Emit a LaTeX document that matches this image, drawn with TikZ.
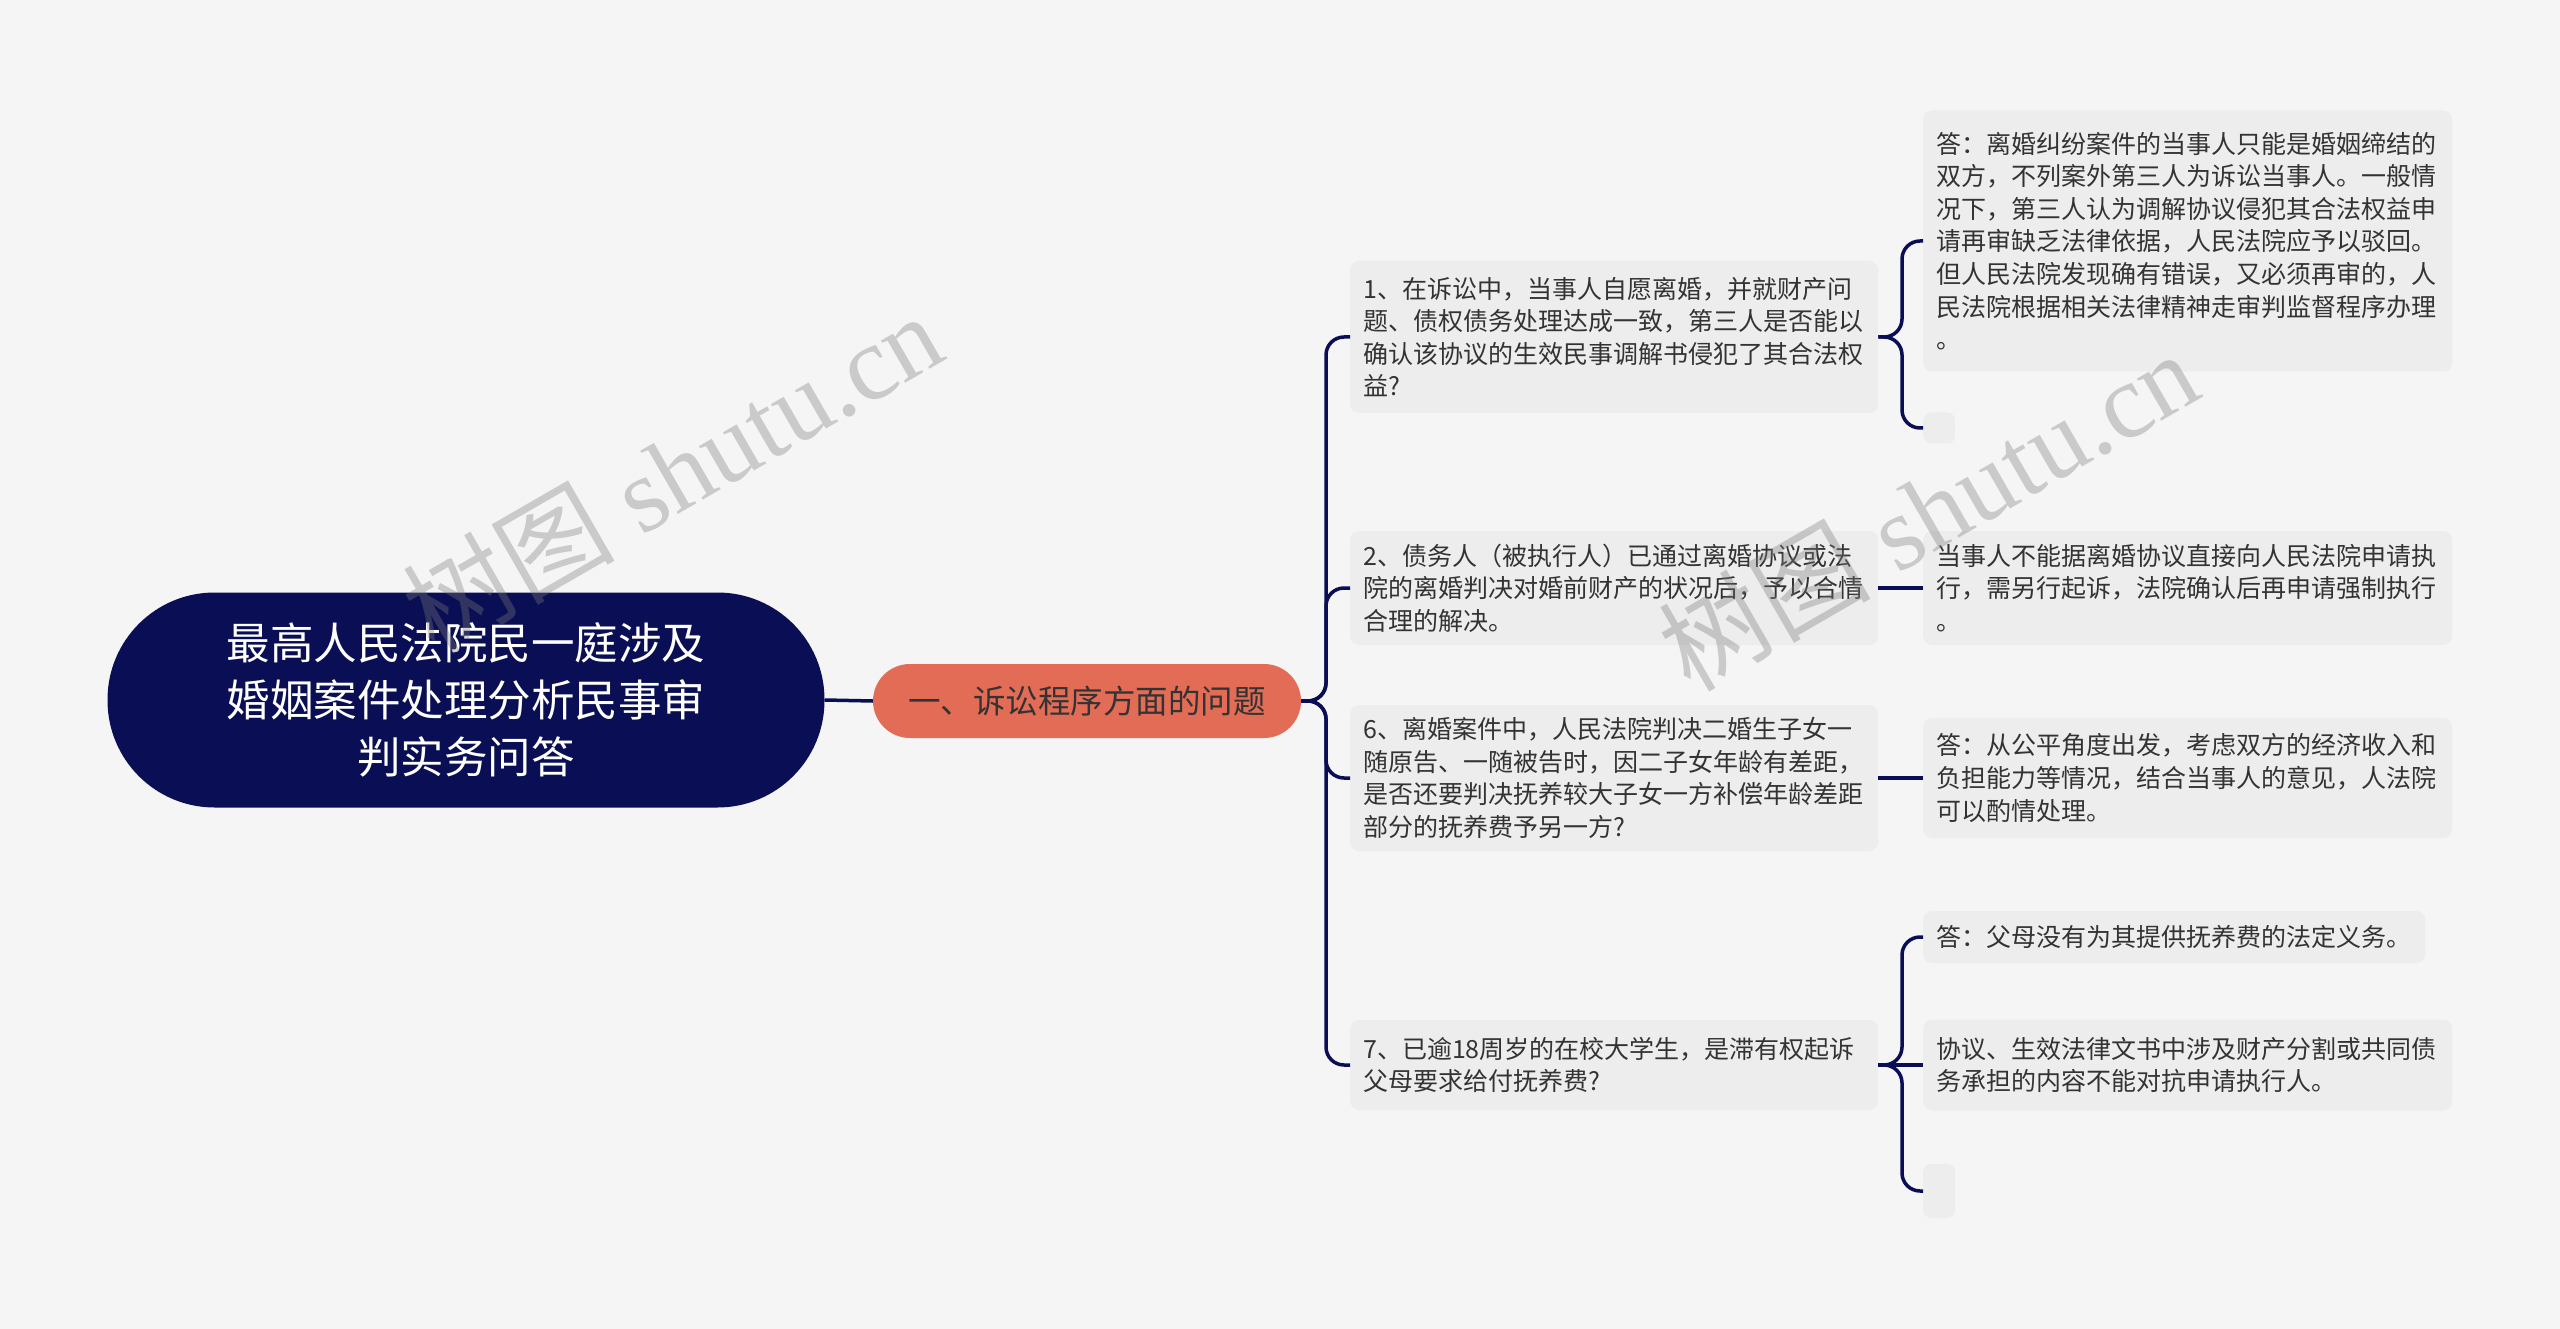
\documentclass[tikz,border=0pt]{standalone}
\usepackage{fontspec}
\newfontfamily\cjk{Noto Sans CJK SC}
\newfontfamily\wmserif{Liberation Serif}
\definecolor{bgc}{HTML}{F5F5F5}
\definecolor{boxc}{HTML}{EDEDED}
\definecolor{navy}{HTML}{0A0F55}
\definecolor{salmon}{HTML}{E36C56}
\definecolor{txt}{HTML}{333333}
\definecolor{wmc}{HTML}{7A7A7A}
\tikzset{
  rootbox/.style={fill=navy, rounded corners=107pt, minimum width=717pt, minimum height=215pt, text=white, align=center, font=\cjk\fontsize{43.5}{57}\selectfont, inner sep=0pt},
  branchbox/.style={fill=salmon, rounded corners=37pt, minimum width=428pt, minimum height=74pt, text=txt, align=center, font=\cjk\fontsize{32.5}{36}\selectfont, inner sep=0pt},
  qbox/.style={fill=boxc, rounded corners=9pt, text=txt, font=\cjk\fontsize{25}{32.6}\selectfont, align=left, anchor=west, inner xsep=13pt, inner ysep=0pt, text width=502pt},
  abox/.style={qbox, text width=503pt},
  emptybox/.style={fill=boxc, rounded corners=8pt, anchor=west, minimum width=32pt, inner sep=0pt},
  link/.style={draw=navy, line width=3.5pt, rounded corners=18pt},
  wm/.style={text=wmc, opacity=0.35, font=\wmserif\fontsize{106}{110}\selectfont, rotate=30, inner sep=0pt}
}
\begin{document}
\begin{tikzpicture}[x=1pt,y=-1pt]
\fill[bgc] (0,0) rectangle (2560,1329);
\useasboundingbox (0,0) rectangle (2560,1329);

% nodes
\node[rootbox] (root) at (466,700) {最高人民法院民一庭涉及\\婚姻案件处理分析民事审\\判实务问答};
\node[branchbox] (br) at (1087,701) {一、诉讼程序方面的问题};

\node[qbox, minimum height=152pt] (q1) at (1350,337) {1、在诉讼中，当事人自愿离婚，并就财产问\\题、债权债务处理达成一致，第三人是否能以\\确认该协议的生效民事调解书侵犯了其合法权\\益?};
\node[qbox, minimum height=114pt] (q2) at (1350,588) {2、债务人（被执行人）已通过离婚协议或法\\院的离婚判决对婚前财产的状况后，予以合情\\合理的解决。};
\node[qbox, minimum height=146pt] (q6) at (1350,778) {6、离婚案件中，人民法院判决二婚生子女一\\随原告、一随被告时，因二子女年龄有差距，\\是否还要判决抚养较大子女一方补偿年龄差距\\部分的抚养费予另一方?};
\node[qbox, minimum height=90pt] (q7) at (1350,1065) {7、已逾18周岁的在校大学生，是滞有权起诉\\父母要求给付抚养费?};

\node[abox, minimum height=261pt] (a1) at (1923,241) {答：离婚纠纷案件的当事人只能是婚姻缔结的\\双方，不列案外第三人为诉讼当事人。一般情\\况下，第三人认为调解协议侵犯其合法权益申\\请再审缺乏法律依据，人民法院应予以驳回。\\但人民法院发现确有错误，又必须再审的，人\\民法院根据相关法律精神走审判监督程序办理\\。};
\node[emptybox, minimum height=31pt] (a1e) at (1923,428) {};
\node[abox, minimum height=114pt] (a2) at (1923,588) {当事人不能据离婚协议直接向人民法院申请执\\行，需另行起诉，法院确认后再申请强制执行\\。};
\node[abox, minimum height=120pt] (a6) at (1923,778) {答：从公平角度出发，考虑双方的经济收入和\\负担能力等情况，结合当事人的意见，人法院\\可以酌情处理。};
\node[abox, text width=476pt, minimum height=52pt] (a7a) at (1923,937) {答：父母没有为其提供抚养费的法定义务。};
\node[abox, minimum height=91pt] (a7b) at (1923,1065) {协议、生效法律文书中涉及财产分割或共同债\\务承担的内容不能对抗申请执行人。};
\node[emptybox, minimum height=54pt] (a7e) at (1923,1191) {};

% coordinates for the elbows
\coordinate (sp) at (1326,701);
\coordinate (b1) at (1902,337);
\coordinate (b7) at (1902,1065);

% connectors
\draw[link] (root.east) -- (br.west);
\draw[link] (br.east) -- (sp) |- (q1.west);
\draw[link] (br.east) -- (sp) |- (q2.west);
\draw[link] (br.east) -- (sp) |- (q6.west);
\draw[link] (br.east) -- (sp) |- (q7.west);

\draw[link] (q1.east) -- (b1) |- (a1.west);
\draw[link] (q1.east) -- (b1) |- (a1e.west);
\draw[link] (q2.east) -- (a2.west);
\draw[link] (q6.east) -- (a6.west);
\draw[link] (q7.east) -- (b7) |- (a7a.west);
\draw[link] (q7.east) -- (b7) -- (a7b.west);
\draw[link] (q7.east) -- (b7) |- (a7e.west);

% watermarks
\node[wm] (wm1) at (672,472) {{\cjk 树图} shutu.cn};
\node[wm] (wm2) at (1928,510) {{\cjk 树图} shutu.cn};
\end{tikzpicture}
\end{document}
